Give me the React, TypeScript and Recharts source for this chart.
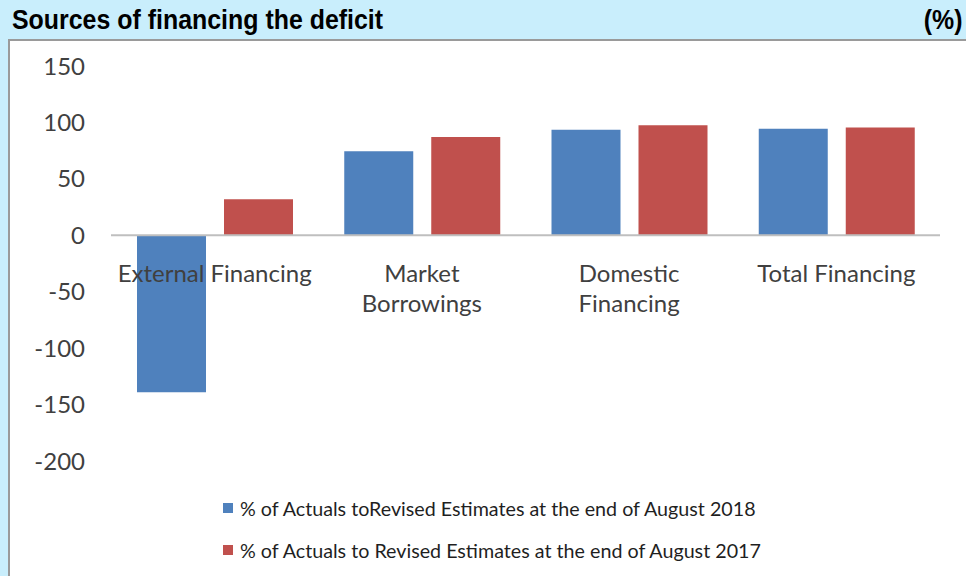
import { BarChart, Bar, XAxis, YAxis, ReferenceLine } from 'recharts'

// Categories (a "\n" marks where the label wraps under the zero line)
const categories = ['External Financing', 'Market\nBorrowings', 'Domestic\nFinancing', 'Total Financing']
const actual2018 = [-139, 74.5, 93.5, 94.5]
const actual2017 = [32, 87, 97.5, 95.5]
const yTicks = [150, 100, 50, 0, -50, -100, -150, -200]
const seriesNames = [
  '% of Actuals toRevised Estimates at the end of August 2018',
  '% of Actuals to Revised Estimates at the end of August 2017',
]

const BLUE = '#4f81bd'
const RED = '#c0504d'
const FONT = 'Lato, "Open Sans", sans-serif'
const TITLE_FONT = '"Liberation Sans", Arial, sans-serif'

const W = 966
const H = 576
const X_AXIS_H = 30
const MARGIN = { top: 66, right: 26, bottom: 115 - X_AXIS_H, left: 8 }
const Y_MIN = -200
const Y_MAX = 150

// y pixel of the value 0, used to place the category labels under the zero line like Excel does
const plotH = H - MARGIN.top - MARGIN.bottom - X_AXIS_H
const zeroY = MARGIN.top + ((Y_MAX - 0) / (Y_MAX - Y_MIN)) * plotH

const data = categories.map((name, i) => ({
  name,
  a2018: actual2018[i],
  a2017: actual2017[i],
}))

const legendItems = [
  { name: seriesNames[0], color: BLUE },
  { name: seriesNames[1], color: RED },
]

const CategoryTick = (props: any) => {
  const { x, payload } = props
  const lines = String(payload.value).split('\n')
  return (
    <text
      x={x}
      y={zeroY + 47}
      textAnchor="middle"
      fill="#404040"
      fontSize={24}
      fontFamily={FONT}
    >
      {lines.map((line, i) => (
        <tspan key={i} x={x} dy={i === 0 ? 0 : 30}>
          {line}
        </tspan>
      ))}
    </text>
  )
}

export default function App() {
  const titleStyle: any = {
    position: 'absolute',
    top: 2,
    fontFamily: TITLE_FONT,
    fontWeight: 'bold',
    fontSize: 28,
    lineHeight: '36px',
    color: '#000',
    whiteSpace: 'nowrap',
  }
  return (
    <div
      style={{
        position: 'relative',
        width: W,
        height: H,
        background: '#c9eefc',
        overflow: 'hidden',
      }}
    >
      <style>{'body{margin:0}'}</style>
      {/* title bar */}
      <div style={{ ...titleStyle, left: 12, transform: 'scaleX(0.89)', transformOrigin: 'left' }}>
        Sources of financing the deficit
      </div>
      <div style={{ ...titleStyle, right: 3, transform: 'scaleX(0.89)', transformOrigin: 'right' }}>
        (%)
      </div>
      {/* white chart panel */}
      <div
        style={{
          position: 'absolute',
          left: 8,
          top: 39,
          width: W - 8,
          height: H - 39,
          background: '#fff',
          borderLeft: '2px solid #9a9a9a',
          borderTop: '2px solid #9a9a9a',
          boxSizing: 'border-box',
        }}
      />
      <div style={{ position: 'absolute', left: 0, top: 0 }}>
        <BarChart width={W} height={H} data={data} margin={MARGIN} barGap={18}>
          <XAxis
            dataKey="name"
            axisLine={false}
            tickLine={false}
            height={X_AXIS_H}
            interval={0}
            tick={CategoryTick}
          />
          <YAxis
            domain={[Y_MIN, Y_MAX]}
            ticks={yTicks}
            width={103}
            axisLine={false}
            tickLine={false}
            tickSize={0}
            tickMargin={26}
            tick={{ fill: '#404040', fontSize: 24, fontFamily: FONT }}
          />
          <ReferenceLine y={0} stroke="#bfbfbf" strokeWidth={2} />
          <Bar dataKey="a2018" name={seriesNames[0]} fill={BLUE} barSize={69} isAnimationActive={false} />
          <Bar dataKey="a2017" name={seriesNames[1]} fill={RED} barSize={69} isAnimationActive={false} />
        </BarChart>
      </div>
      {/* legend */}
      <div
        style={{
          position: 'absolute',
          left: 223,
          top: 487,
          fontFamily: FONT,
          fontSize: 19.7,
          color: '#1f1f1f',
        }}
      >
        {legendItems.map((item) => (
          <div key={item.name} style={{ display: 'flex', alignItems: 'center', height: 42 }}>
            <span
              style={{
                width: 10,
                height: 10,
                backgroundColor: item.color,
                marginRight: 7,
                display: 'inline-block',
              }}
            />
            <span>{item.name}</span>
          </div>
        ))}
      </div>
    </div>
  )
}
